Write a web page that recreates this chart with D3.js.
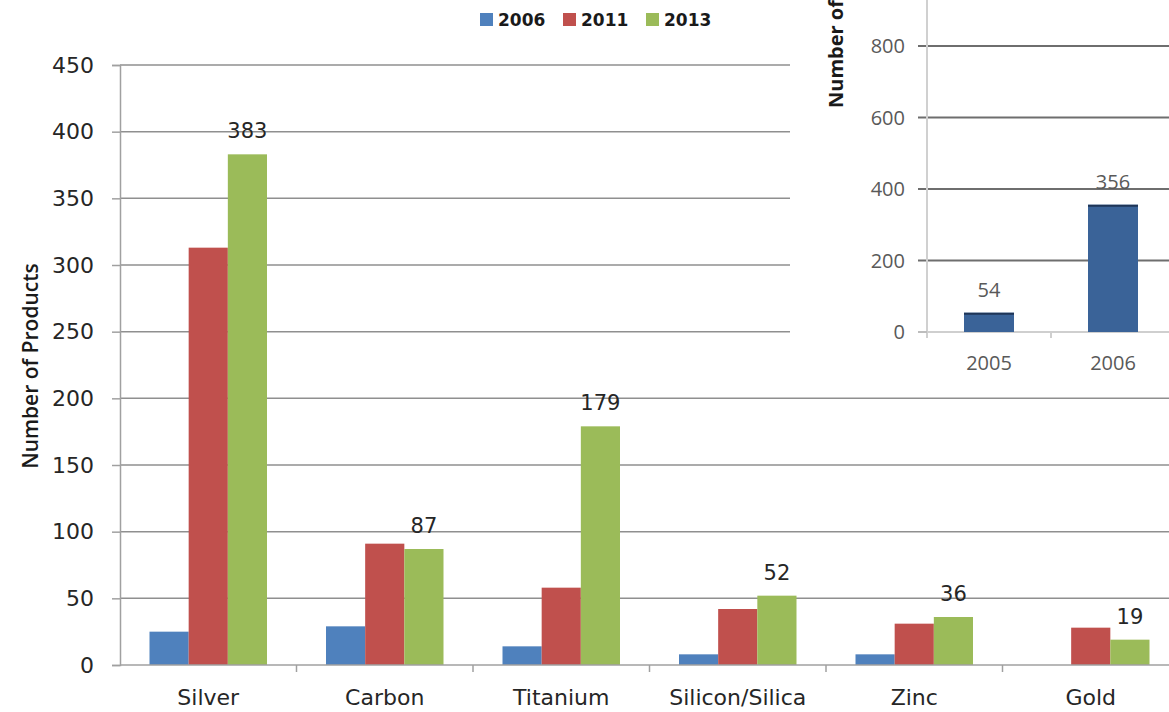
<!DOCTYPE html>
<html>
<head>
<meta charset="utf-8">
<script src="https://cdn.jsdelivr.net/npm/d3@7"></script>
<style>
  html, body { margin: 0; padding: 0; background: #fff; }
  svg { display: block; }
</style>
</head>
<body>
<svg id="chart" width="1169" height="712"></svg>
<script>
// Nanomaterial products by material and year
const categories = ["Silver", "Carbon", "Titanium", "Silicon/Silica", "Zinc", "Gold"];
const seriesNames = ["2006", "2011", "2013"];
const values2006 = [25, 29, 14, 8, 8, 0];
const values2011 = [313, 91, 58, 42, 31, 28];
const values2013 = [383, 87, 179, 52, 36, 19];
const yTicks = [0, 50, 100, 150, 200, 250, 300, 350, 400, 450];

// Inset: total products by year
const insetYears = ["2005", "2006"];
const insetValues = [54, 356];
const insetTicks = [0, 200, 400, 600, 800];

const seriesColors = ["#4F81BD", "#C0504D", "#9BBB59"];
const seriesValues = [values2006, values2011, values2013];

const svg = d3.select("#chart");
const textFont = "'DejaVu Sans', Verdana, sans-serif";
const textColor = "#262626";

// ---- main chart ----
const plotLeft = 120, plotTop = 65, plotBottom = 665;
const x0 = d3.scaleBand().domain(categories).range([plotLeft, plotLeft + 6 * 176.5]).padding(0);
const x1 = d3.scaleBand().domain(seriesNames).range([29.5, 147]).padding(0);
const y = d3.scaleLinear().domain([0, 450]).range([plotBottom, plotTop]);

// horizontal gridlines
svg.append("g")
  .selectAll("line")
  .data(yTicks.filter(t => t > 0))
  .join("line")
  .attr("x1", plotLeft).attr("x2", 1169)
  .attr("y1", d => y(d)).attr("y2", d => y(d))
  .attr("stroke", "#8f8f8f").attr("stroke-width", 1.5);

// y axis
const yAxis = svg.append("g")
  .attr("transform", `translate(${plotLeft},0)`)
  .call(d3.axisLeft(y).tickValues(yTicks).tickSize(8).tickPadding(18));
yAxis.select(".domain").attr("stroke", "#a0a0a0").attr("stroke-width", 1.5);
yAxis.selectAll(".tick line").attr("stroke", "#a0a0a0").attr("stroke-width", 1.5);
yAxis.selectAll(".tick text")
  .attr("font-family", textFont).attr("font-size", 22).attr("fill", textColor);

// bars
const groups = svg.append("g")
  .selectAll("g")
  .data(categories.map((c, i) => ({ c, i })))
  .join("g")
  .attr("transform", d => `translate(${x0(d.c)},0)`);

groups.selectAll("rect")
  .data(d => seriesNames.map((s, k) => ({ s, k, v: seriesValues[k][d.i] })))
  .join("rect")
  .attr("x", d => x1(d.s))
  .attr("width", x1.bandwidth())
  .attr("y", d => y(d.v))
  .attr("height", d => plotBottom - y(d.v))
  .attr("fill", d => seriesColors[d.k]);

// value labels over the 2013 bars
groups.append("text")
  .attr("x", x1("2013") + x1.bandwidth() / 2)
  .attr("y", d => y(values2013[d.i]) - 16)
  .attr("text-anchor", "middle")
  .attr("font-family", textFont).attr("font-size", 21).attr("fill", textColor)
  .text(d => values2013[d.i]);

// x axis
const xAxis = svg.append("g")
  .attr("transform", `translate(0,${plotBottom})`);
xAxis.append("line")
  .attr("x1", plotLeft).attr("x2", 1169).attr("y1", 0).attr("y2", 0)
  .attr("stroke", "#a0a0a0").attr("stroke-width", 1.5);
xAxis.selectAll("line.sep")
  .data(categories)
  .join("line")
  .attr("class", "sep")
  .attr("x1", d => x0(d) + x0.bandwidth()).attr("x2", d => x0(d) + x0.bandwidth())
  .attr("y1", 0).attr("y2", 7)
  .attr("stroke", "#a0a0a0").attr("stroke-width", 1.5);
xAxis.selectAll("text")
  .data(categories)
  .join("text")
  .attr("x", d => x0(d) + x0.bandwidth() / 2)
  .attr("y", 40)
  .attr("text-anchor", "middle")
  .attr("font-family", textFont).attr("font-size", 22).attr("fill", textColor)
  .text(d => d);

// y axis title
svg.append("text")
  .attr("transform", "translate(38,366) rotate(-90)")
  .attr("text-anchor", "middle")
  .attr("font-family", "'Open Sans', sans-serif").attr("font-weight", 600)
  .attr("font-size", 21).attr("fill", "#1a1a1a")
  .text("Number of Products");

// legend
const legend = svg.append("g");
const legendX = [480, 563, 646];
seriesNames.forEach((s, k) => {
  legend.append("rect")
    .attr("x", legendX[k]).attr("y", 13).attr("width", 13).attr("height", 13)
    .attr("fill", seriesColors[k]);
  legend.append("text")
    .attr("x", legendX[k] + 18).attr("y", 26)
    .attr("font-family", textFont).attr("font-weight", "bold")
    .attr("font-size", 17).attr("fill", "#1a1a1a")
    .text(s);
});

// ---- inset chart ----
const inset = svg.append("g");
inset.append("rect")
  .attr("x", 790).attr("y", 0).attr("width", 379).attr("height", 390)
  .attr("fill", "#fff");

const insetLeft = 927, insetBase = 332;
const ix = d3.scaleBand().domain(insetYears).range([insetLeft, insetLeft + 248]).padding(0);
const iy = d3.scaleLinear().domain([0, 800]).range([insetBase, 46]);
const insetFont = "'Open Sans', sans-serif";
const insetGray = "#595959";

inset.selectAll("line.grid")
  .data(insetTicks.filter(t => t > 0))
  .join("line")
  .attr("class", "grid")
  .attr("x1", 918).attr("x2", 1169)
  .attr("y1", d => iy(d)).attr("y2", d => iy(d))
  .attr("stroke", "#6e6e6e").attr("stroke-width", 2);

// inset axes
inset.append("line")
  .attr("x1", insetLeft).attr("x2", insetLeft).attr("y1", 0).attr("y2", insetBase + 6)
  .attr("stroke", "#d0d0d0").attr("stroke-width", 2);
inset.append("line")
  .attr("x1", 918).attr("x2", 1169).attr("y1", insetBase).attr("y2", insetBase)
  .attr("stroke", "#cfcfcf").attr("stroke-width", 2);
inset.append("line")
  .attr("x1", 918).attr("x2", insetLeft).attr("y1", insetBase).attr("y2", insetBase)
  .attr("stroke", "#bdbdbd").attr("stroke-width", 2);
inset.append("line")
  .attr("x1", ix("2006")).attr("x2", ix("2006")).attr("y1", insetBase).attr("y2", insetBase + 6)
  .attr("stroke", "#cfcfcf").attr("stroke-width", 2);

inset.selectAll("text.ytick")
  .data(insetTicks)
  .join("text")
  .attr("class", "ytick")
  .attr("x", 905).attr("y", d => iy(d))
  .attr("dy", "0.36em")
  .attr("text-anchor", "end")
  .attr("font-family", insetFont).attr("font-size", 20).attr("fill", insetGray)
  .text(d => d);

const barW = 50;
inset.selectAll("rect.bar")
  .data(insetYears.map((yr, i) => ({ yr, v: insetValues[i] })))
  .join("rect")
  .attr("class", "bar")
  .attr("x", d => ix(d.yr) + ix.bandwidth() / 2 - barW / 2)
  .attr("width", barW)
  .attr("y", d => iy(d.v))
  .attr("height", d => insetBase - iy(d.v))
  .attr("fill", "#3A6398");
inset.selectAll("line.bartop")
  .data(insetYears.map((yr, i) => ({ yr, v: insetValues[i] })))
  .join("line")
  .attr("class", "bartop")
  .attr("x1", d => ix(d.yr) + ix.bandwidth() / 2 - barW / 2)
  .attr("x2", d => ix(d.yr) + ix.bandwidth() / 2 + barW / 2)
  .attr("y1", d => iy(d.v) + 1).attr("y2", d => iy(d.v) + 1)
  .attr("stroke", "#1f3557").attr("stroke-width", 2);

inset.selectAll("text.val")
  .data(insetYears.map((yr, i) => ({ yr, v: insetValues[i] })))
  .join("text")
  .attr("class", "val")
  .attr("x", d => ix(d.yr) + ix.bandwidth() / 2)
  .attr("y", d => iy(d.v) - 16)
  .attr("text-anchor", "middle")
  .attr("font-family", insetFont).attr("font-size", 20).attr("fill", insetGray)
  .text(d => d.v);

inset.selectAll("text.xlab")
  .data(insetYears)
  .join("text")
  .attr("class", "xlab")
  .attr("x", d => ix(d) + ix.bandwidth() / 2)
  .attr("y", 370)
  .attr("text-anchor", "middle")
  .attr("font-family", insetFont).attr("font-size", 20).attr("fill", insetGray)
  .text(d => d);

inset.append("text")
  .attr("transform", "translate(843,108) rotate(-90)")
  .attr("text-anchor", "start")
  .attr("font-family", insetFont).attr("font-weight", "bold")
  .attr("font-size", 20).attr("fill", "#1a1a1a")
  .text("Number of");
</script>
</body>
</html>
